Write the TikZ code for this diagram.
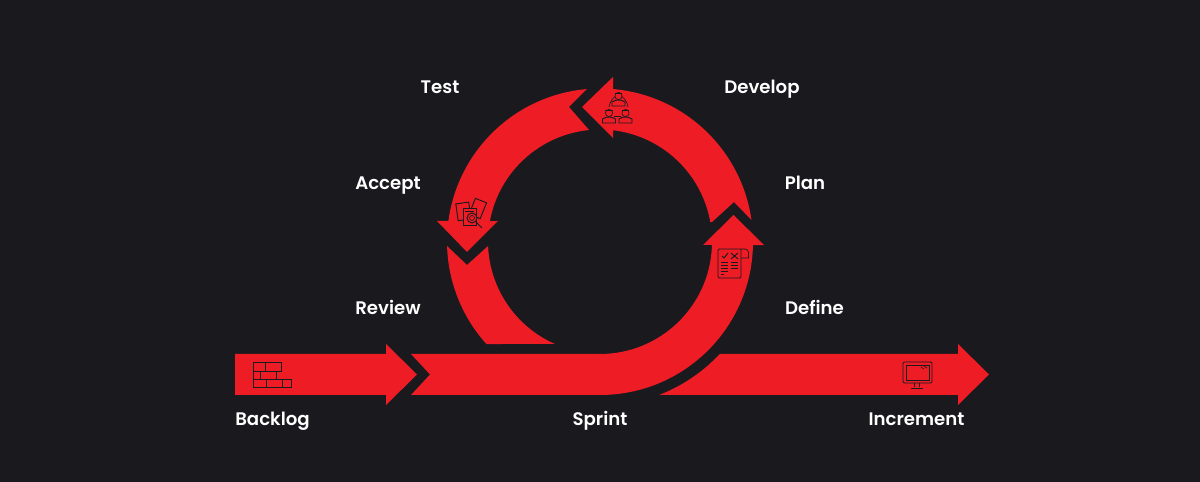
\documentclass[tikz,border=0pt]{standalone}
\usepackage{xcolor}
\usepackage{fontspec}
\usepackage{tikz}
\setmainfont{Poppins}[BoldFont={Poppins SemiBold}]
\definecolor{sprintred}{RGB}{238,29,37}
\definecolor{darkbg}{RGB}{26,26,30}
\tikzset{
    steplabel/.style={text=white,font=\fontsize{15.5}{18}\selectfont\bfseries,inner sep=0pt,anchor=base},
    iconline/.style={draw=darkbg,line width=0.8pt,fill=none},
    iconthin/.style={draw=darkbg,line width=0.55pt,fill=none},
    band/.style={fill=sprintred,draw=none}
}
\begin{document}
\begin{tikzpicture}[x=0.03cm,y=0.03cm]
    % Background
    \fill[darkbg] (0,0) rectangle (1200,482);
    \useasboundingbox (0,0) rectangle (1200,482);
    \coordinate (c) at (600,240.5);
    \coordinate (d) at (600,240);

    % Backlog arrow
    \fill[band] (235,128) -- (386,128) -- (386,138) -- (417,107.5) -- (386,77) -- (386,87) -- (235,87) -- cycle;

    % Sprint arrow
    \fill[band] (411,128) -- (430,107.5) -- (411,87) -- (600,87)
        arc[start angle=-90,end angle=-1.2,radius=153]
        -- (764,237) -- (733.5,267) -- (703,237)
        -- ([shift={(-1.5:112)}]d) arc[start angle=-1.5,end angle=-90,radius=112] -- cycle;

    % Increment arrow
    \fill[band] ([shift={(-43.07:164)}]d) arc[start angle=-43.07,end angle=-68.9,radius=164]
        -- (958,87) -- (958,77) -- (989,107.5) -- (958,138) -- (958,128) -- cycle;

    % Develop arrow
    \fill[band] (712,260) -- (734,280) -- ([shift={(8.1:153)}]c)
        arc[start angle=8.1,end angle=85.1,radius=153]
        -- (613,405) -- (582,375) -- (613,344)
        -- ([shift={(83.3:112)}]c) arc[start angle=83.3,end angle=10,radius=112] -- cycle;

    % Test arrow
    \fill[band] ([shift={(94.9:153)}]c) arc[start angle=94.9,end angle=172.3,radius=153]
        -- (437,261) -- (467,230) -- (498,261)
        -- ([shift={(169.5:112)}]c) arc[start angle=169.5,end angle=95.6,radius=112]
        -- (569,375) -- cycle;

    % Review piece
    \fill[band] ([shift={(181.7:153)}]c) arc[start angle=181.7,end angle=222.07,radius=153]
        -- ([shift={(246.2:112)}]c) arc[start angle=246.2,end angle=182.3,radius=112]
        -- (467,217) -- cycle;

    % Labels
    \node[steplabel] (test) at (440,388) {Test};
    \node[steplabel] (develop) at (762,388) {Develop};
    \node[steplabel] (accept) at (388,292) {Accept};
    \node[steplabel] (plan) at (805,292) {Plan};
    \node[steplabel] (review) at (388,167) {Review};
    \node[steplabel] (define) at (814.5,167) {Define};
    \node[steplabel] (backlog) at (272.5,56) {Backlog};
    \node[steplabel] (sprint) at (600,56) {Sprint};
    \node[steplabel] (increment) at (916.5,56) {Increment};

    % Brick icon
    \draw[iconline] (253,95) rectangle (291,103);
    \draw[iconline] (253,103) rectangle (276,111);
    \draw[iconline] (253,111) rectangle (281,120);
    \draw[iconline] (266,95) -- (266,103) (282,95) -- (282,103) (260,103) -- (260,111) (265,111) -- (265,120);

    % Monitor icon
    \draw[iconline,rounded corners=1pt] (903,99) rectangle (932,120);
    \draw[iconthin] (906,102) rectangle (929,117);
    \draw[iconthin] (914,99) -- (914,95) (919,99) -- (919,95);
    \draw[iconline] (911,94) -- (923,94);
    \draw[iconthin] (921,115) -- (924,113) (924,116) -- (927,114);

    % Plan icon
    \draw[iconline,rounded corners=1pt] (745,233) -- (718,233) -- (718,204) -- (741,204) -- (741,233);
    \draw[iconthin] (745,233) arc[start angle=90,end angle=0,radius=3.5] -- (748.5,224) -- (741,224);
    \draw[iconline] (722,226) -- (724,224) -- (728,229);
    \draw[iconline] (731,229) -- (738,223) (731,223) -- (738,229);
    \foreach \ya in {220,217,214,211}{
        \draw[iconline] (721,\ya) -- (728,\ya);
    }
    \draw[iconline] (721,208) -- (724,208);
    \foreach \ya in {220,217,214}{
        \draw[iconthin] (731,\ya) -- (738,\ya);
    }

    % Team icon
    \foreach \px/\py in {618.5/386,609/369,625.5/369}{
        \draw[iconthin] (\px,\py) circle[radius=3.6];
        \draw[iconthin] (\px-3.6,\py+2.5) -- (\px+3.6,\py+2.5);
        \draw[iconline] (\px-6.5,\py-10) -- (\px-6.5,\py-6) -- (\px-2.5,\py-4.2) -- (\px+2.5,\py-4.2) -- (\px+6.5,\py-6) -- (\px+6.5,\py-10) -- cycle;
    }
    \draw[iconthin] (609,375) arc[start angle=170,end angle=130,radius=18];
    \draw[iconthin] (628,375) arc[start angle=10,end angle=50,radius=18];
    \draw[iconthin] (614,366) -- (621,366);

    % Accept icon
    \draw[iconline,rotate around={8:(463,270)}] (457,262) rectangle (470,279);
    \draw[iconline,rotate around={-22:(478,274)}] (472,265) rectangle (484,282);
    \draw[fill=sprintred,draw=darkbg,line width=0.8pt] (463,257) rectangle (476,274);
    \draw[fill=sprintred,draw=darkbg,line width=0.8pt] (472,264) circle[radius=5];
    \draw[iconthin] (472,264) circle[radius=2.5];
    \draw[iconline] (476,260) -- (482,254);
    \draw[iconthin] (465,271) -- (474,271);
\end{tikzpicture}
\end{document}
